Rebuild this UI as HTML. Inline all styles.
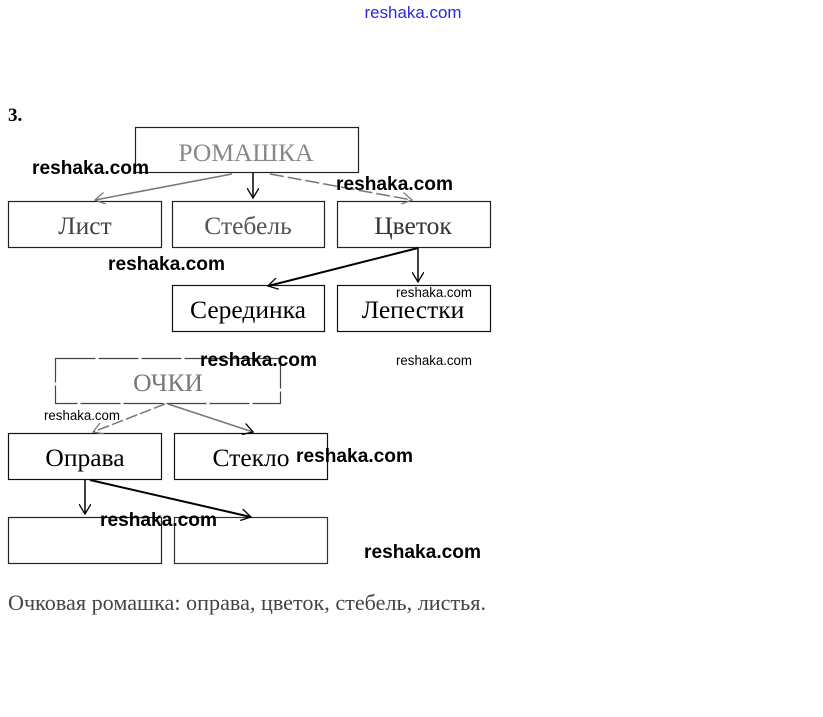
<!DOCTYPE html>
<html><head><meta charset="utf-8"><style>
html,body{margin:0;padding:0;background:#fff;width:823px;height:717px;overflow:hidden}
svg{display:block}
.s{font-family:"Liberation Serif","DejaVu Serif",serif}
.w{font-family:"Liberation Sans","DejaVu Sans",sans-serif;font-weight:bold;fill:#000}
.ws{font-family:"Liberation Sans","DejaVu Sans",sans-serif;fill:#000}
</style></head><body>
<svg width="823" height="717" viewBox="0 0 823 717">
<defs>
<marker id="a" markerWidth="12" markerHeight="12" refX="10" refY="6" orient="auto" markerUnits="userSpaceOnUse"><path d="M0,0 L10,6 L0,12" fill="none" stroke="#000" stroke-width="1.3"/></marker>
<marker id="g" markerWidth="12" markerHeight="12" refX="10" refY="6" orient="auto" markerUnits="userSpaceOnUse"><path d="M0,0 L10,6 L0,12" fill="none" stroke="#777" stroke-width="1.3"/></marker>
</defs>
<text x="413" y="18" text-anchor="middle" font-family="Liberation Sans,sans-serif" font-size="17" fill="#2a2ae0" textLength="97" lengthAdjust="spacingAndGlyphs">reshaka.com</text>
<text x="8" y="121" class="s" font-size="19" font-weight="bold">3.</text>
<g fill="none" stroke-width="1.2">
<rect x="135.5" y="127.5" width="223" height="45" stroke="#222"/>
<rect x="8.5" y="201.5" width="153" height="46" stroke="#222"/>
<rect x="172.5" y="201.5" width="152" height="46" stroke="#222"/>
<rect x="337.5" y="201.5" width="153" height="46" stroke="#222"/>
<rect x="172.5" y="285.5" width="152" height="46" stroke="#111"/>
<rect x="337.5" y="285.5" width="153" height="46" stroke="#111"/>
<rect x="55.5" y="358.5" width="225" height="45" stroke="#444" stroke-dasharray="40 3"/>
<rect x="8.5" y="433.5" width="153" height="46" stroke="#111"/>
<rect x="174.5" y="433.5" width="153" height="46" stroke="#111"/>
<rect x="8.5" y="517.5" width="153" height="46" stroke="#222"/>
<rect x="174.5" y="517.5" width="153" height="46" stroke="#333"/>
</g>
<g class="s" text-anchor="middle" font-size="25.5">
<text x="246" y="161" fill="#888">РОМАШКА</text>
<text x="85" y="234" fill="#444">Лист</text>
<text x="248" y="234" fill="#555">Стебель</text>
<text x="413" y="234" fill="#333">Цветок</text>
<text x="248" y="318" fill="#000">Серединка</text>
<text x="413" y="318" fill="#000">Лепестки</text>
<text x="168" y="391" fill="#777">ОЧКИ</text>
<text x="85" y="466" fill="#000">Оправа</text>
<text x="251" y="466" fill="#000">Стекло</text>
</g>
<g stroke-width="1.5" fill="none">
<line x1="232" y1="174" x2="95" y2="200" stroke="#777" marker-end="url(#g)"/>
<line x1="253" y1="173" x2="253" y2="198" stroke="#000" marker-end="url(#a)"/>
<line x1="270" y1="174" x2="412" y2="200" stroke="#777" stroke-dasharray="14 4" marker-end="url(#g)"/>
<line x1="418" y1="248" x2="268" y2="286" stroke="#000" stroke-width="2" marker-end="url(#a)"/>
<line x1="418" y1="248" x2="418" y2="282" stroke="#000" marker-end="url(#a)"/>
<line x1="165" y1="404" x2="93" y2="432" stroke="#777" stroke-dasharray="12 3" marker-end="url(#g)"/>
<line x1="168" y1="404" x2="253" y2="432" stroke="#777" marker-end="url(#a)"/>
<line x1="85" y1="480" x2="85" y2="514" stroke="#000" marker-end="url(#a)"/>
<line x1="90" y1="480" x2="251" y2="517" stroke="#000" stroke-width="2" marker-end="url(#a)"/>
</g>
<text x="8" y="610" class="s" font-size="22" fill="#444" textLength="478" lengthAdjust="spacingAndGlyphs">Очковая ромашка: оправа, цветок, стебель, листья.</text>
<g font-size="19">
<text class="w" x="32" y="174" textLength="117" lengthAdjust="spacingAndGlyphs">reshaka.com</text>
<text class="w" x="336" y="190" textLength="117" lengthAdjust="spacingAndGlyphs">reshaka.com</text>
<text class="w" x="108" y="270" textLength="117" lengthAdjust="spacingAndGlyphs">reshaka.com</text>
<text class="w" x="200" y="366" textLength="117" lengthAdjust="spacingAndGlyphs">reshaka.com</text>
<text class="w" x="296" y="462" textLength="117" lengthAdjust="spacingAndGlyphs">reshaka.com</text>
<text class="w" x="100" y="526" textLength="117" lengthAdjust="spacingAndGlyphs">reshaka.com</text>
<text class="w" x="364" y="558" textLength="117" lengthAdjust="spacingAndGlyphs">reshaka.com</text>
</g>
<g font-size="13.5">
<text class="ws" x="396" y="297" textLength="76" lengthAdjust="spacingAndGlyphs">reshaka.com</text>
<text class="ws" x="396" y="365" textLength="76" lengthAdjust="spacingAndGlyphs">reshaka.com</text>
<text class="ws" x="44" y="420" textLength="76" lengthAdjust="spacingAndGlyphs">reshaka.com</text>
</g>
</svg>
</body></html>
